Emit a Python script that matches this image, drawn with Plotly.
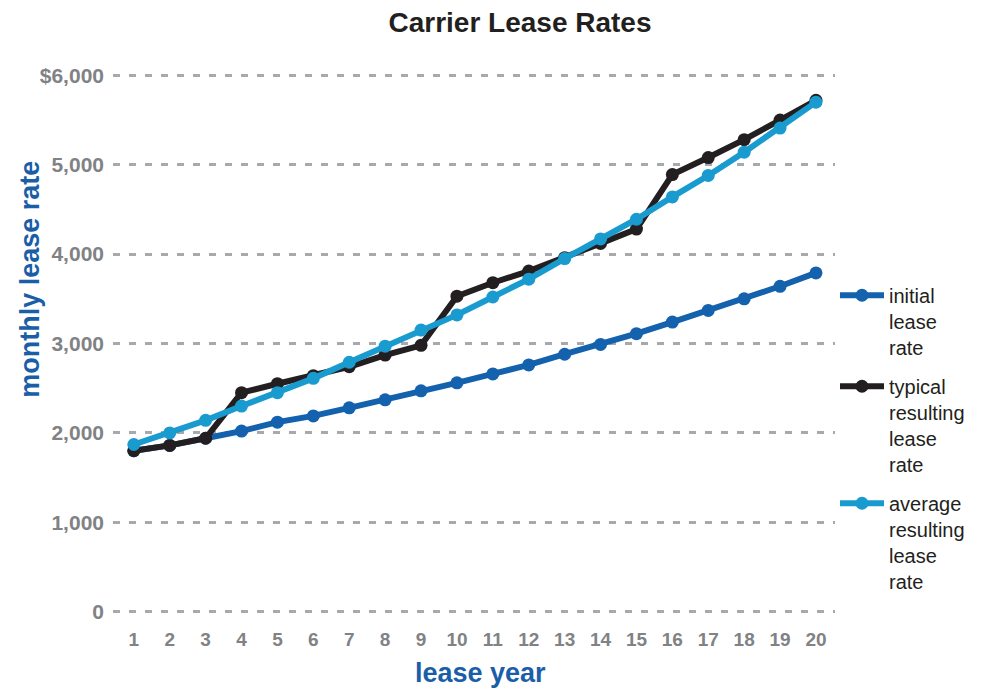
import plotly.graph_objects as go

years = list(range(1, 21))
initial = [1800, 1860, 1940, 2020, 2120, 2190, 2280, 2370, 2470, 2560,
           2660, 2760, 2880, 2990, 3110, 3240, 3370, 3500, 3640, 3790]
typical = [1800, 1860, 1940, 2450, 2550, 2640, 2740, 2870, 2980, 3530,
           3680, 3810, 3960, 4120, 4280, 4890, 5080, 5280, 5500, 5720]
average = [1870, 2000, 2140, 2300, 2450, 2610, 2790, 2970, 3150, 3320,
           3520, 3720, 3950, 4170, 4390, 4640, 4880, 5140, 5410, 5700]

names = ["initial<br>lease<br>rate", "typical<br>resulting<br>lease<br>rate",
         "average<br>resulting<br>lease<br>rate"]
colors = ["#1461ae", "#231f20", "#1a9bcf"]
series = [initial, typical, average]

ytick_vals = [0, 1000, 2000, 3000, 4000, 5000, 6000]
ytick_text = ["0", "1,000", "2,000", "3,000", "4,000", "5,000", "$6,000"]

FONT = "Liberation Sans, Arial, sans-serif"

fig = go.Figure()
for name, color, vals in zip(names, colors, series):
    fig.add_trace(go.Scatter(
        x=years, y=vals, name=name, mode="lines+markers",
        legendgroup=name,
        line=dict(color=color, width=6),
        marker=dict(color=color, size=13),
    ))

fig.update_layout(
    width=987, height=689,
    margin=dict(l=113, r=152, t=74, b=76),
    paper_bgcolor="white", plot_bgcolor="white",
    font=dict(family=FONT),
    title=dict(text="Carrier Lease Rates", x=520/987, xref="container", xanchor="center",
               y=1 - 22/689, yref="container", yanchor="middle",
               font=dict(size=28, color="#231f20", weight="bold")),
    legend=dict(x=1.0, xanchor="left", y=(612 - 276) / 537, yanchor="top",
                valign="top", tracegroupgap=10, itemwidth=44,
                font=dict(size=20, color="#231f20"),
                bgcolor="rgba(0,0,0,0)"),
    showlegend=True,
)

fig.update_xaxes(
    range=[0.42, 20.53], tickvals=years, ticktext=[str(y) for y in years],
    showgrid=False, zeroline=False, showline=False, ticks="",
    tickfont=dict(size=19, color="#808285", weight="bold"),
    ticklabelstandoff=13,
)
fig.update_yaxes(
    range=[-15, 6015], tickvals=ytick_vals, ticktext=ytick_text,
    showgrid=True, gridcolor="#a7a9ac", gridwidth=2.5, griddash="7px,9px",
    zeroline=False, showline=False, ticks="",
    tickfont=dict(size=21, color="#808285", weight="bold"),
    ticklabelstandoff=8,
)

fig.add_annotation(text="monthly lease rate", xref="paper", yref="paper",
                   x=0, xshift=30 - 113, y=(612 - 280) / 537, textangle=-90,
                   xanchor="center", yanchor="middle", showarrow=False,
                   font=dict(size=27, color="#1a5ea8", weight="bold", family=FONT))
fig.add_annotation(text="lease year", xref="paper", yref="paper",
                   x=(480 - 113) / 722, y=0, yshift=-(673 - 613),
                   xanchor="center", yanchor="middle", showarrow=False,
                   font=dict(size=27, color="#1a5ea8", weight="bold", family=FONT))

fig.write_html("out.html")
